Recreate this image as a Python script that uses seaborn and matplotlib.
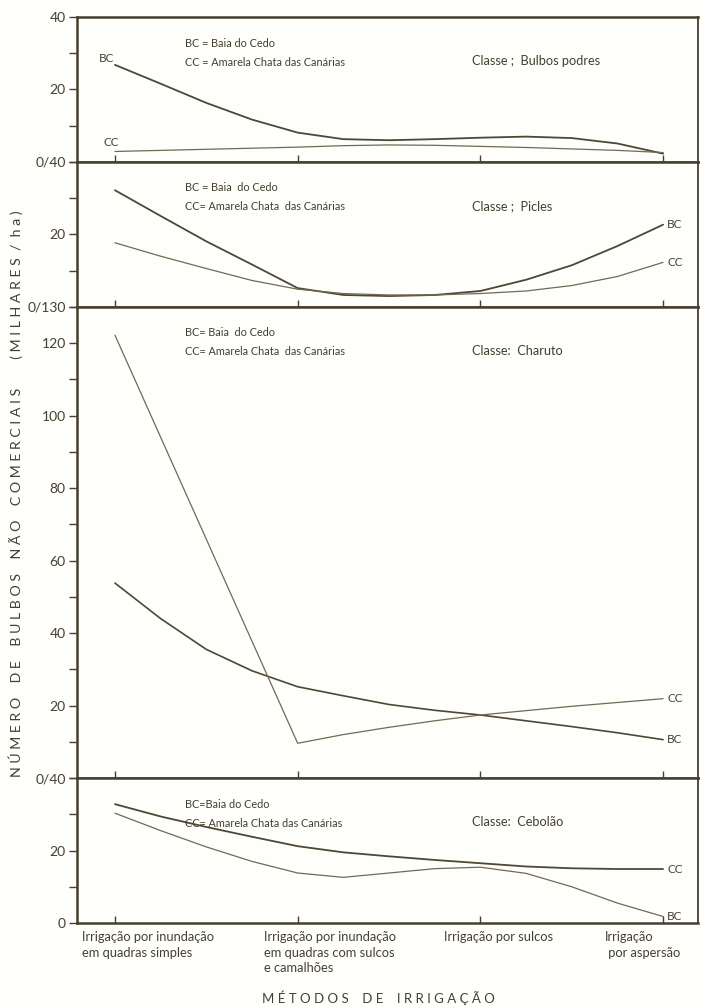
import matplotlib
matplotlib.use("Agg")

import matplotlib.pyplot as plt
import matplotlib.transforms as mtransforms
import pandas as pd
import seaborn as sns

# --- data -----------------------------------------------------------------
METHODS = [
    "Irrigação por inundação\nem quadras simples",
    "Irrigação por inundação\nem quadras com sulcos\ne camalhões",
    "Irrigação por sulcos",
    "Irrigação\n por aspersão",
]
METHOD_POS = [0, 1, 2, 3]

# readings taken along the drawn curves, every quarter step between methods
X_STEPS = [0, 0.25, 0.5, 0.75, 1, 1.25, 1.5, 1.75, 2, 2.25, 2.5, 2.75, 3]

PODRES_BC = [26.8, 21.6, 16.3, 11.7, 8.1, 6.3, 6.0, 6.3, 6.7, 7.0, 6.6, 5.1, 2.3]
PODRES_CC = [2.9, 3.2, 3.5, 3.8, 4.1, 4.5, 4.7, 4.6, 4.3, 4.0, 3.6, 3.2, 2.6]

PICLES_BC = [32.2, 25.1, 18.1, 11.7, 5.2, 3.3, 3.0, 3.3, 4.4, 7.5, 11.5, 16.8, 22.7]
PICLES_CC = [17.7, 14.0, 10.6, 7.3, 4.9, 3.7, 3.3, 3.3, 3.7, 4.4, 5.9, 8.4, 12.3]

CHARUTO_BC = [53.8, 44.0, 35.5, 29.6, 25.2, 22.7, 20.3, 18.7, 17.4, 15.8, 14.2, 12.5, 10.6]
CHARUTO_CC_X = [0, 1, 1.25, 1.5, 1.75, 2, 2.5, 3]
CHARUTO_CC = [122.2, 9.6, 12.0, 14.0, 15.8, 17.4, 19.8, 21.9]

CEBOLAO_BC = [30.3, 25.5, 21.0, 17.0, 13.8, 12.6, 13.8, 15.0, 15.4, 13.7, 10.0, 5.5, 1.8]
CEBOLAO_CC = [32.8, 29.4, 26.5, 23.8, 21.2, 19.5, 18.4, 17.4, 16.5, 15.6, 15.1, 14.9, 14.9]

CLASSES = ["Classe ;  Bulbos podres", "Classe ;  Picles", "Classe:  Charuto", "Classe:  Cebolão"]
Y_MAX = [40, 40, 130, 40]
Y_LABELS = [
    {0: "0/40", 20: "20", 40: "40"},
    {0: "0/130", 20: "20"},
    {0: "0/40", 20: "20", 40: "40", 60: "60", 80: "80", 100: "100", 120: "120"},
    {0: "0", 20: "20"},
]
KEY_BC = ["BC = Baia do Cedo", "BC = Baia  do Cedo", "BC= Baia  do Cedo", "BC=Baia do Cedo"]
KEY_CC = ["CC = Amarela Chata das Canárias", "CC= Amarela Chata  das Canárias",
          "CC= Amarela Chata  das Canárias", "CC= Amarela Chata das Canárias"]

SERIES = [
    ((X_STEPS, PODRES_BC), (X_STEPS, PODRES_CC)),
    ((X_STEPS, PICLES_BC), (X_STEPS, PICLES_CC)),
    ((X_STEPS, CHARUTO_BC), (CHARUTO_CC_X, CHARUTO_CC)),
    ((X_STEPS, CEBOLAO_BC), (X_STEPS, CEBOLAO_CC)),
]

# --- style ---------------------------------------------------------------
INK = "#463f30"
DARK_LINE = "#4f4636"
LIGHT_LINE = "#726955"
BG = "#fefefb"
# (BC width, CC width) per panel -- in the last panel the CC curve is the heavier one
WIDTHS = [(1.3, 0.9), (1.3, 0.9), (1.2, 0.9), (0.9, 1.3)]

sns.set_style("white")
plt.rcParams["font.family"] = ["Lato", "DejaVu Sans"]
plt.rcParams["text.color"] = INK

fig = plt.figure(figsize=(7.01, 10.07), dpi=100, facecolor=BG)
gs = fig.add_gridspec(4, 1, height_ratios=Y_MAX, hspace=0,
                      left=0.1098, right=0.9957, top=0.9831, bottom=0.0834)
axes = []
for i in range(4):
    ax = fig.add_subplot(gs[i], sharex=axes[0] if axes else None)
    axes.append(ax)

for i, ax in enumerate(axes):
    ax.set_facecolor(BG)
    (bx, by), (cx, cy) = SERIES[i]
    wb, wc = WIDTHS[i]
    sns.lineplot(x=bx, y=by, ax=ax, color=DARK_LINE if wb > wc else LIGHT_LINE,
                 linewidth=wb, estimator=None, sort=False, solid_joinstyle="round")
    sns.lineplot(x=cx, y=cy, ax=ax, color=DARK_LINE if wc > wb else LIGHT_LINE,
                 linewidth=wc, estimator=None, sort=False, solid_joinstyle="round")

    ax.set_xlim(-0.208, 3.191)
    ax.set_ylim(0, Y_MAX[i])
    ticks = list(range(0, Y_MAX[i] + 1, 10))
    ax.set_yticks(ticks)
    ax.set_yticklabels([Y_LABELS[i].get(t, "") for t in ticks])
    ax.tick_params(axis="y", direction="out", length=6, width=1.0, colors=INK,
                   labelsize=10, pad=2, left=True)
    ax.set_xticks(METHOD_POS)
    ax.tick_params(axis="x", direction="in", length=5, width=1.0, colors=INK,
                   bottom=True, top=False)
    ax.set_xlabel("")
    ax.set_ylabel("")
    for side in ["top", "bottom", "left", "right"]:
        ax.spines[side].set_visible(True)
        ax.spines[side].set_color(INK)
        ax.spines[side].set_linewidth(1.8)
    ax.spines["right"].set_linewidth(1.3)

    # key and class name
    ax.annotate(KEY_BC[i], xy=(0.174, 1), xycoords="axes fraction", xytext=(0, -26),
                textcoords="offset pixels", fontsize=7.8, va="center", color=INK)
    ax.annotate(KEY_CC[i], xy=(0.174, 1), xycoords="axes fraction", xytext=(0, -45),
                textcoords="offset pixels", fontsize=7.8, va="center", color=INK)
    ax.annotate(CLASSES[i], xy=(0.636, 1), xycoords="axes fraction", xytext=(0, -44),
                textcoords="offset pixels", fontsize=9.2, va="center", color=INK)

    if i < 3:
        ax.tick_params(axis="x", labelbottom=False)

# series names at the ends of the lines
p0 = axes[0]
p0.annotate("BC", xy=(X_STEPS[0], PODRES_BC[0]), xytext=(-6, 2), textcoords="offset points",
            fontsize=8.5, color=INK, ha="center")
p0.annotate("CC", xy=(X_STEPS[0], PODRES_CC[0]), xytext=(-3, 4), textcoords="offset points",
            fontsize=8.5, color=INK, ha="center")
for ax, (bx, by), (cx, cy) in [(axes[j], *SERIES[j]) for j in (1, 2, 3)]:
    ax.annotate("BC", xy=(bx[-1], by[-1]), xytext=(3, 0), textcoords="offset points",
                fontsize=8.5, color=INK, va="center")
    ax.annotate("CC", xy=(cx[-1], cy[-1]), xytext=(3, 0), textcoords="offset points",
                fontsize=8.5, color=INK, va="center")

# method labels under the last panel, left aligned a little before each tick
bottom = axes[3]
bottom.set_xticklabels(METHODS, ha="left", va="top", fontsize=9.3, linespacing=1.35, color=INK)
bottom.tick_params(axis="x", pad=6)
shifts = [-33, -34, -36, -58]
for lab, dx in zip(bottom.get_xticklabels(), shifts):
    lab.set_transform(lab.get_transform() + mtransforms.ScaledTranslation(dx / 100, 0, fig.dpi_scale_trans))

fig.text(16 / 701, 1 - 494 / 1007,
         "N Ú M E R O    D E    B U L B O S    N Ã O    C O M E R C I A I S        ( M I L H A R E S  /  h a )",
         rotation=90, ha="center", va="center", fontsize=10.2, color=INK)
fig.text(378 / 701, 1 - 998 / 1007, "M É T O D O S    D E    I R R I G A Ç Ã O",
         ha="center", va="center", fontsize=9.5, color=INK)

fig.savefig("out.png", dpi=100, facecolor=BG)
plt.close(fig)
